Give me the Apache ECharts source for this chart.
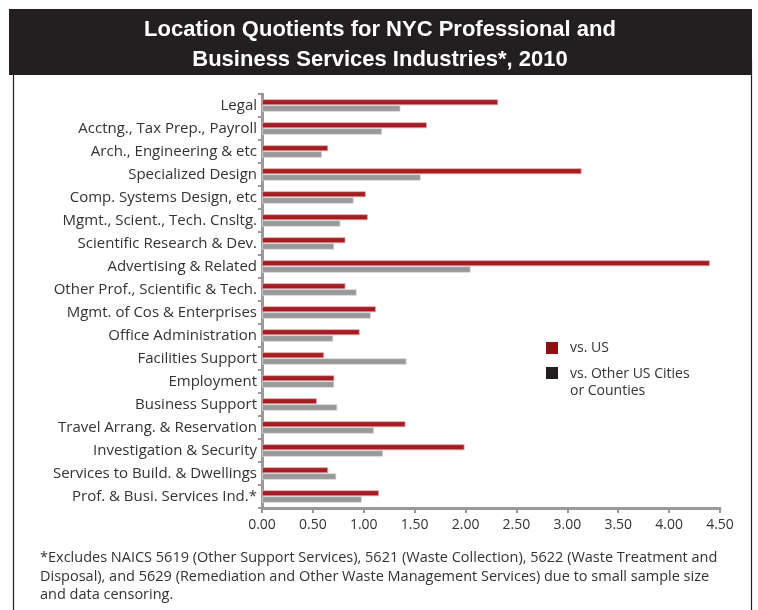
<!DOCTYPE html>
<html><head><meta charset="utf-8">
<script src="https://cdn.jsdelivr.net/npm/echarts@6/dist/echarts.min.js"></script>
<style>html,body{margin:0;padding:0;background:#fff}#c{width:758px;height:610px}</style>
</head><body><div id="c"></div>
<script>
const categories = ["Legal","Acctng., Tax Prep., Payroll","Arch., Engineering & etc","Specialized Design","Comp. Systems Design, etc","Mgmt., Scient., Tech. Cnsltg.","Scientific Research & Dev.","Advertising & Related","Other Prof., Scientific & Tech.","Mgmt. of Cos & Enterprises","Office Administration","Facilities Support","Employment","Business Support","Travel Arrang. & Reservation","Investigation & Security","Services to Build. & Dwellings","Prof. & Busi. Services Ind.*"];
const vsUS =    [2.32,1.62,0.65,3.14,1.02,1.04,0.82,4.40,0.82,1.12,0.96,0.61,0.71,0.54,1.41,1.99,0.65,1.15];
const vsOther = [1.36,1.18,0.59,1.56,0.90,0.77,0.71,2.05,0.93,1.07,0.70,1.42,0.71,0.74,1.10,1.19,0.73,0.98];
const seriesNames = ["vs. US","vs. Other US Cities\nor Counties"];
const xTicks = {min:0, max:4.5, interval:0.5};
const titleLines = "Location Quotients for NYC Professional and\nBusiness Services Industries*, 2010";
const footnote = "*Excludes NAICS 5619 (Other Support Services), 5621 (Waste Collection), 5622 (Waste Treatment and\nDisposal), and 5629 (Remediation and Other Waste Management Services) due to small sample size\nand data censoring.";

const chart = echarts.init(document.getElementById('c'), null, {renderer:'canvas'});
const font = '"Open Sans", "Noto Sans", sans-serif';
chart.setOption({
  animation:false,
  backgroundColor:'#fff',
  grid:{left:262, right:38, top:94, bottom:102, containLabel:false},
  xAxis:{type:'value', min:xTicks.min, max:xTicks.max, interval:xTicks.interval,
    axisLine:{show:true, lineStyle:{color:'#999', width:3}},
    axisTick:{show:true, length:5, lineStyle:{color:'#999', width:2}},
    splitLine:{show:false},
    axisLabel:{color:'#333', fontFamily:font, fontSize:14, margin:10, formatter:v=>v.toFixed(2)}},
  yAxis:{type:'category', data:categories, inverse:true,
    axisLine:{show:true, lineStyle:{color:'#999', width:3}},
    axisTick:{show:true, length:4, lineStyle:{color:'#999', width:2}},
    axisLabel:{color:'#333', fontFamily:font, fontSize:15, margin:5, padding:[3,0,0,0]}},
  series:[
    {name:seriesNames[0], type:'bar', data:vsUS, barWidth:6, barGap:'0%',
      itemStyle:{color:'#a31d23', borderColor:'#e3a9ab', borderWidth:0.8}},
    {name:seriesNames[1], type:'bar', data:vsOther, barWidth:6.5, barGap:'0%',
      itemStyle:{color:'#999999', borderColor:'#d8d8d8', borderWidth:0.8}}
  ],
  graphic:[
    {type:'rect', shape:{x:13.5, y:60, width:738, height:600}, style:{fill:'none', stroke:'#231f20', lineWidth:1.2}, z:0},
    {type:'rect', shape:{x:9, y:9, width:743, height:66}, style:{fill:'#231f20'}, z:1},
    {type:'text', x:380, y:45, style:{text:titleLines, fill:'#fff', font:'bold 22px "Liberation Sans Narrow", "Liberation Sans", sans-serif', align:'center', verticalAlign:'middle', lineHeight:30}, z:2},
    {type:'rect', shape:{x:546, y:342, width:12, height:12}, style:{fill:'#8c1010'}, z:2},
    {type:'text', x:570, y:348, style:{text:seriesNames[0], fill:'#333', font:'14px '+font, verticalAlign:'middle'}, z:2},
    {type:'rect', shape:{x:546, y:367, width:12, height:12}, style:{fill:'#231f20'}, z:2},
    {type:'text', x:570, y:366, style:{text:seriesNames[1], fill:'#333', font:'14px '+font, verticalAlign:'top', lineHeight:17}, z:2},
    {type:'text', x:40, y:549, style:{text:footnote, fill:'#333', font:'14.5px '+font, verticalAlign:'top', lineHeight:18.5}, z:2}
  ]
});
</script></body></html>
